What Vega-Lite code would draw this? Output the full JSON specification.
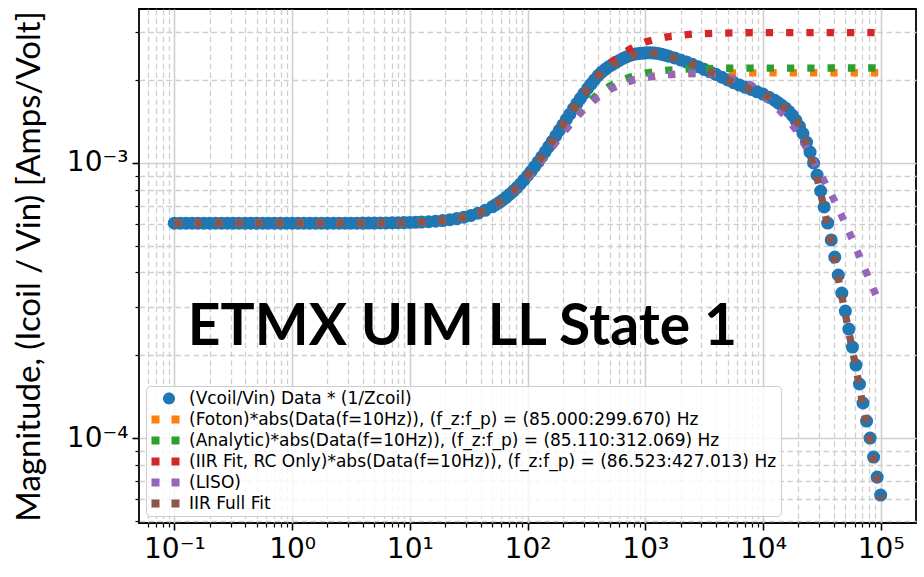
{
"$schema": "https://vega.github.io/schema/vega-lite/v6.json",
"width": 777,
"height": 514,
"autosize": {"type": "none"},
"padding": {"left": 139, "top": 9, "right": 8, "bottom": 54},
"background": "white",
"config": {"view": {"stroke": "black", "strokeWidth": 1.8}, "font": "DejaVu Sans"},
"datasets": {
"meas": [
{"s":"a","f":0.1,"m":6.04e-4},{"s":"a","f":0.1122,"m":6.04e-4},{"s":"a","f":0.1259,"m":6.04e-4},{"s":"a","f":0.1413,"m":6.04e-4},{"s":"a","f":0.1585,"m":6.04e-4},{"s":"a","f":0.1778,"m":6.04e-4},{"s":"a","f":0.1995,"m":6.04e-4},{"s":"a","f":0.2239,"m":6.04e-4},{"s":"a","f":0.2512,"m":6.04e-4},{"s":"a","f":0.2818,"m":6.04e-4},{"s":"a","f":0.3162,"m":6.04e-4},{"s":"a","f":0.3548,"m":6.04e-4},{"s":"a","f":0.3981,"m":6.04e-4},{"s":"a","f":0.4467,"m":6.04e-4},{"s":"a","f":0.5012,"m":6.04e-4},{"s":"a","f":0.5623,"m":6.04e-4},{"s":"a","f":0.631,"m":6.04e-4},{"s":"a","f":0.7079,"m":6.04e-4},{"s":"a","f":0.7943,"m":6.04e-4},{"s":"a","f":0.8913,"m":6.04e-4},{"s":"a","f":1,"m":6.04e-4},{"s":"a","f":1.122,"m":6.04e-4},{"s":"a","f":1.259,"m":6.04e-4},{"s":"a","f":1.413,"m":6.04e-4},{"s":"a","f":1.585,"m":6.04e-4},{"s":"a","f":1.778,"m":6.04e-4},{"s":"a","f":1.995,"m":6.04e-4},{"s":"a","f":2.239,"m":6.04e-4},{"s":"a","f":2.512,"m":6.04e-4},{"s":"a","f":2.818,"m":6.04e-4},{"s":"a","f":3.162,"m":6.04e-4},{"s":"a","f":3.548,"m":6.04e-4},{"s":"a","f":3.981,"m":6.045e-4},
{"s":"a","f":4.467,"m":6.05e-4},{"s":"a","f":5.012,"m":6.05e-4},{"s":"a","f":5.623,"m":6.053e-4},{"s":"a","f":6.31,"m":6.056e-4},{"s":"a","f":7.079,"m":6.06e-4},{"s":"a","f":7.943,"m":6.064e-4},{"s":"a","f":8.913,"m":6.07e-4},{"s":"a","f":10,"m":6.078e-4},{"s":"a","f":11.22,"m":6.088e-4},{"s":"a","f":12.59,"m":6.101e-4},{"s":"a","f":14.45,"m":6.12e-4},{"s":"a","f":16.6,"m":6.145e-4},{"s":"a","f":19.05,"m":6.178e-4},{"s":"a","f":21.88,"m":6.221e-4},{"s":"a","f":25.12,"m":6.277e-4},{"s":"a","f":28.84,"m":6.351e-4},{"s":"a","f":33.11,"m":6.447e-4},{"s":"a","f":38.02,"m":6.571e-4},{"s":"a","f":43.65,"m":6.73e-4},{"s":"a","f":50.12,"m":6.932e-4},
{"s":"a","f":53.7,"m":7.053e-4},{"s":"a","f":57.54,"m":7.188e-4},{"s":"a","f":61.66,"m":7.34e-4},{"s":"a","f":66.07,"m":7.51e-4},{"s":"a","f":70.79,"m":7.699e-4},{"s":"a","f":75.86,"m":7.909e-4},{"s":"a","f":81.28,"m":8.141e-4},{"s":"a","f":87.1,"m":8.397e-4},{"s":"a","f":93.33,"m":8.679e-4},{"s":"a","f":100,"m":8.987e-4},{"s":"a","f":107.2,"m":9.327e-4},{"s":"a","f":114.8,"m":9.694e-4},{"s":"a","f":123,"m":1.0091e-3},{"s":"a","f":131.8,"m":1.0519e-3},{"s":"a","f":141.3,"m":1.098e-3},{"s":"a","f":151.4,"m":1.1474e-3},{"s":"a","f":162.2,"m":1.1998e-3},{"s":"a","f":173.8,"m":1.2557e-3},{"s":"a","f":186.2,"m":1.3144e-3},{"s":"a","f":199.5,"m":1.3757e-3},{"s":"a","f":213.8,"m":1.4398e-3},{"s":"a","f":229.1,"m":1.5065e-3},{"s":"a","f":245.5,"m":1.5753e-3},{"s":"a","f":263,"m":1.646e-3},{"s":"a","f":281.8,"m":1.7183e-3},{"s":"a","f":302,"m":1.7906e-3},{"s":"a","f":323.6,"m":1.8638e-3},{"s":"a","f":346.7,"m":1.9369e-3},{"s":"a","f":371.5,"m":2.0092e-3},{"s":"a","f":398.1,"m":2.0804e-3},
{"s":"a","f":426.6,"m":2.14e-3},{"s":"a","f":457.1,"m":2.19e-3},{"s":"a","f":489.8,"m":2.24e-3},{"s":"a","f":524.8,"m":2.28e-3},{"s":"a","f":562.3,"m":2.32e-3},{"s":"a","f":602.6,"m":2.36e-3},{"s":"a","f":645.7,"m":2.4e-3},{"s":"a","f":691.8,"m":2.43e-3},{"s":"a","f":741.3,"m":2.46e-3},{"s":"a","f":794.3,"m":2.48e-3},{"s":"a","f":851.1,"m":2.495e-3},{"s":"a","f":912,"m":2.505e-3},{"s":"a","f":977.2,"m":2.51e-3},{"s":"a","f":1047,"m":2.515e-3},{"s":"a","f":1122,"m":2.515e-3},{"s":"a","f":1202,"m":2.51e-3},{"s":"a","f":1288,"m":2.5e-3},{"s":"a","f":1380,"m":2.485e-3},{"s":"a","f":1479,"m":2.465e-3},{"s":"a","f":1585,"m":2.445e-3},
{"s":"a","f":1778,"m":2.41e-3},{"s":"a","f":1995,"m":2.37e-3},{"s":"a","f":2239,"m":2.33e-3},{"s":"a","f":2512,"m":2.285e-3},{"s":"a","f":2818,"m":2.24e-3},{"s":"a","f":3162,"m":2.19e-3},{"s":"a","f":3548,"m":2.145e-3},{"s":"a","f":3981,"m":2.1e-3},{"s":"a","f":4467,"m":2.05e-3},{"s":"a","f":5012,"m":2.005e-3},{"s":"a","f":5623,"m":1.96e-3},{"s":"a","f":6310,"m":1.92e-3},{"s":"a","f":7079,"m":1.885e-3},{"s":"a","f":7943,"m":1.85e-3},{"s":"a","f":8913,"m":1.815e-3},{"s":"a","f":10000,"m":1.78e-3},{"s":"a","f":11220,"m":1.735e-3},{"s":"a","f":12589,"m":1.69e-3},
{"s":"a","f":13490,"m":1.655e-3},{"s":"a","f":14454,"m":1.62e-3},{"s":"a","f":15488,"m":1.585e-3},{"s":"a","f":16596,"m":1.54e-3},{"s":"a","f":17783,"m":1.49e-3},{"s":"a","f":19055,"m":1.43e-3},{"s":"a","f":20417,"m":1.36e-3},{"s":"a","f":21878,"m":1.28e-3},{"s":"a","f":23442,"m":1.19e-3},{"s":"a","f":25119,"m":1.096e-3},{"s":"a","f":26915,"m":1.0e-3},{"s":"a","f":28840,"m":9.04e-4},{"s":"a","f":30903,"m":7.91e-4},{"s":"a","f":33113,"m":6.92e-4},{"s":"a","f":35481,"m":6.05e-4},{"s":"a","f":38019,"m":5.25e-4},{"s":"a","f":40738,"m":4.55e-4},{"s":"a","f":43652,"m":3.915e-4},{"s":"a","f":46774,"m":3.367e-4},{"s":"a","f":50119,"m":2.895e-4},{"s":"a","f":53703,"m":2.49e-4},{"s":"a","f":57544,"m":2.142e-4},{"s":"a","f":61660,"m":1.842e-4},{"s":"a","f":66069,"m":1.572e-4},{"s":"a","f":70795,"m":1.341e-4},{"s":"a","f":75858,"m":1.153e-4},{"s":"a","f":81283,"m":1.0e-4},{"s":"a","f":87096,"m":8.53e-5},{"s":"a","f":93325,"m":7.21e-5},{"s":"a","f":100000,"m":6.205e-5}
],
"models": [
{"s":"b","f":0.1,"m":6.04e-4},{"s":"b","f":1,"m":6.04e-4},{"s":"b","f":3.162,"m":6.044e-4},{"s":"b","f":10,"m":6.078e-4},{"s":"b","f":15.85,"m":6.135e-4},{"s":"b","f":25.12,"m":6.276e-4},{"s":"b","f":31.62,"m":6.409e-4},{"s":"b","f":39.81,"m":6.611e-4},{"s":"b","f":50.12,"m":6.915e-4},{"s":"b","f":63.1,"m":7.359e-4},{"s":"b","f":79.43,"m":7.99e-4},{"s":"b","f":100,"m":8.845e-4},{"s":"b","f":125.9,"m":9.952e-4},{"s":"b","f":158.5,"m":1.1297e-3},{"s":"b","f":199.5,"m":1.2831e-3},{"s":"b","f":251.2,"m":1.444e-3},{"s":"b","f":316.2,"m":1.6004e-3},{"s":"b","f":398.1,"m":1.7392e-3},{"s":"b","f":501.2,"m":1.8537e-3},{"s":"b","f":631,"m":1.9408e-3},{"s":"b","f":794.3,"m":2.0037e-3},{"s":"b","f":1000,"m":2.0471e-3},{"s":"b","f":1259,"m":2.0762e-3},{"s":"b","f":1585,"m":2.0952e-3},{"s":"b","f":2512,"m":2.1155e-3},{"s":"b","f":3981,"m":2.1237e-3},{"s":"b","f":10000,"m":2.1282e-3},{"s":"b","f":100000,"m":2.1292e-3},
{"s":"c","f":0.1,"m":6.04e-4},{"s":"c","f":1,"m":6.04e-4},{"s":"c","f":3.162,"m":6.044e-4},{"s":"c","f":10,"m":6.078e-4},{"s":"c","f":15.85,"m":6.135e-4},{"s":"c","f":25.12,"m":6.276e-4},{"s":"c","f":31.62,"m":6.41e-4},{"s":"c","f":39.81,"m":6.614e-4},{"s":"c","f":50.12,"m":6.92e-4},{"s":"c","f":63.1,"m":7.366e-4},{"s":"c","f":79.43,"m":8.005e-4},{"s":"c","f":100,"m":8.873e-4},{"s":"c","f":125.9,"m":1.0002e-3},{"s":"c","f":158.5,"m":1.1383e-3},{"s":"c","f":199.5,"m":1.2984e-3},{"s":"c","f":251.2,"m":1.4661e-3},{"s":"c","f":316.2,"m":1.6322e-3},{"s":"c","f":398.1,"m":1.7827e-3},{"s":"c","f":501.2,"m":1.9076e-3},{"s":"c","f":631,"m":2.0038e-3},{"s":"c","f":794.3,"m":2.0738e-3},{"s":"c","f":1000,"m":2.1223e-3},{"s":"c","f":1259,"m":2.155e-3},{"s":"c","f":1585,"m":2.1766e-3},{"s":"c","f":2512,"m":2.1996e-3},{"s":"c","f":3981,"m":2.2089e-3},{"s":"c","f":10000,"m":2.2141e-3},{"s":"c","f":100000,"m":2.2152e-3},
{"s":"d","f":0.1,"m":6.04e-4},{"s":"d","f":1,"m":6.04e-4},{"s":"d","f":3.162,"m":6.044e-4},{"s":"d","f":10,"m":6.078e-4},{"s":"d","f":15.85,"m":6.136e-4},{"s":"d","f":25.12,"m":6.277e-4},{"s":"d","f":31.62,"m":6.412e-4},{"s":"d","f":39.81,"m":6.619e-4},{"s":"d","f":50.12,"m":6.931e-4},{"s":"d","f":63.1,"m":7.392e-4},{"s":"d","f":79.43,"m":8.059e-4},{"s":"d","f":100,"m":8.987e-4},{"s":"d","f":125.9,"m":1.0229e-3},{"s":"d","f":158.5,"m":1.1817e-3},{"s":"d","f":199.5,"m":1.3757e-3},{"s":"d","f":251.2,"m":1.5986e-3},{"s":"d","f":316.2,"m":1.8387e-3},{"s":"d","f":398.1,"m":2.0804e-3},{"s":"d","f":501.2,"m":2.3035e-3},{"s":"d","f":631,"m":2.4925e-3},{"s":"d","f":794.3,"m":2.6414e-3},{"s":"d","f":1000,"m":2.752e-3},{"s":"d","f":1259,"m":2.8293e-3},{"s":"d","f":1585,"m":2.8822e-3},{"s":"d","f":2512,"m":2.9407e-3},{"s":"d","f":3981,"m":2.9642e-3},{"s":"d","f":6310,"m":2.9742e-3},{"s":"d","f":10000,"m":2.9781e-3},{"s":"d","f":100000,"m":2.9808e-3},
{"s":"e","f":0.1,"m":6.04e-4},{"s":"e","f":1,"m":6.04e-4},{"s":"e","f":3.162,"m":6.044e-4},{"s":"e","f":10,"m":6.078e-4},{"s":"e","f":15.85,"m":6.135e-4},{"s":"e","f":25.12,"m":6.276e-4},{"s":"e","f":31.62,"m":6.409e-4},{"s":"e","f":39.81,"m":6.611e-4},{"s":"e","f":50.12,"m":6.915e-4},{"s":"e","f":63.1,"m":7.359e-4},{"s":"e","f":79.43,"m":7.99e-4},{"s":"e","f":100,"m":8.845e-4},{"s":"e","f":125.9,"m":9.952e-4},{"s":"e","f":158.5,"m":1.1297e-3},{"s":"e","f":199.5,"m":1.2831e-3},{"s":"e","f":251.2,"m":1.444e-3},{"s":"e","f":316.2,"m":1.6004e-3},{"s":"e","f":398.1,"m":1.7392e-3},{"s":"e","f":501.2,"m":1.8537e-3},{"s":"e","f":631,"m":1.9408e-3},{"s":"e","f":794.3,"m":2.0037e-3},{"s":"e","f":1000,"m":2.0471e-3},{"s":"e","f":1259,"m":2.0762e-3},{"s":"e","f":1585,"m":2.0952e-3},{"s":"e","f":2512,"m":2.1155e-3},{"s":"e","f":3981,"m":2.11e-3},{"s":"e","f":5012,"m":2.05e-3},{"s":"e","f":6310,"m":1.99e-3},{"s":"e","f":7943,"m":1.92e-3},{"s":"e","f":10000,"m":1.778e-3},{"s":"e","f":12589,"m":1.622e-3},{"s":"e","f":15849,"m":1.462e-3},{"s":"e","f":19953,"m":1.288e-3},{"s":"e","f":25119,"m":1.072e-3},{"s":"e","f":31623,"m":8.91e-4},{"s":"e","f":39811,"m":7.41e-4},{"s":"e","f":50119,"m":6.03e-4},{"s":"e","f":63096,"m":4.79e-4},{"s":"e","f":79433,"m":3.8e-4},{"s":"e","f":100000,"m":3.02e-4},
{"s":"f","f":0.1,"m":6.04e-4},{"s":"f","f":1,"m":6.04e-4},{"s":"f","f":3.162,"m":6.044e-4},{"s":"f","f":10,"m":6.078e-4},{"s":"f","f":15.85,"m":6.136e-4},{"s":"f","f":25.12,"m":6.277e-4},{"s":"f","f":31.62,"m":6.412e-4},{"s":"f","f":39.81,"m":6.619e-4},{"s":"f","f":50.12,"m":6.931e-4},{"s":"f","f":63.1,"m":7.392e-4},{"s":"f","f":79.43,"m":8.059e-4},{"s":"f","f":100,"m":8.987e-4},{"s":"f","f":125.9,"m":1.0229e-3},{"s":"f","f":158.5,"m":1.1817e-3},{"s":"f","f":199.5,"m":1.3757e-3},{"s":"f","f":251.2,"m":1.5986e-3},{"s":"f","f":316.2,"m":1.8387e-3},{"s":"f","f":398.1,"m":2.07e-3},{"s":"f","f":501.2,"m":2.25e-3},{"s":"f","f":631,"m":2.38e-3},{"s":"f","f":794.3,"m":2.47e-3},{"s":"f","f":1000,"m":2.51e-3},{"s":"f","f":1259,"m":2.505e-3},{"s":"f","f":1585,"m":2.445e-3},{"s":"f","f":1995,"m":2.37e-3},{"s":"f","f":2512,"m":2.285e-3},{"s":"f","f":3162,"m":2.19e-3},{"s":"f","f":3981,"m":2.1e-3},{"s":"f","f":5012,"m":2.005e-3},{"s":"f","f":6310,"m":1.92e-3},{"s":"f","f":7943,"m":1.85e-3},{"s":"f","f":10000,"m":1.78e-3},{"s":"f","f":12589,"m":1.69e-3},{"s":"f","f":15849,"m":1.57e-3},{"s":"f","f":17783,"m":1.49e-3},{"s":"f","f":19953,"m":1.39e-3},{"s":"f","f":22387,"m":1.24e-3},{"s":"f","f":25119,"m":1.07e-3},{"s":"f","f":28184,"m":9.2e-4},{"s":"f","f":31623,"m":7.45e-4},{"s":"f","f":35481,"m":5.9e-4},{"s":"f","f":39811,"m":4.65e-4},{"s":"f","f":44668,"m":3.62e-4},{"s":"f","f":50119,"m":2.82e-4},{"s":"f","f":56234,"m":2.2e-4},{"s":"f","f":63096,"m":1.71e-4},{"s":"f","f":70795,"m":1.31e-4},{"s":"f","f":79433,"m":1.02e-4},{"s":"f","f":89125,"m":7.9e-5},{"s":"f","f":100000,"m":6.0e-5}
],
"note": [{"f": 28, "m": 0.000218, "t": "ETMX UIM LL State 1"}]
},
"encoding": {
"x": {"field": "f", "type": "quantitative",
 "scale": {"type": "log", "domain": [0.0501, 199526], "nice": false},
 "axis": {"title": null, "domain": false, "grid": true,
  "values": [0.06,0.07,0.08,0.09,0.1,0.2,0.3,0.4,0.5,0.6,0.7,0.8,0.9,1,2,3,4,5,6,7,8,9,10,20,30,40,50,60,70,80,90,100,200,300,400,500,600,700,800,900,1000,2000,3000,4000,5000,6000,7000,8000,9000,10000,20000,30000,40000,50000,60000,70000,80000,90000,100000],
  "labelExpr": "datum.value == 0.1 ? '10⁻¹' : datum.value == 1 ? '10⁰' : datum.value == 10 ? '10¹' : datum.value == 100 ? '10²' : datum.value == 1000 ? '10³' : datum.value == 10000 ? '10⁴' : datum.value == 100000 ? '10⁵' : ''",
  "labelFont": "DejaVu Sans", "labelFontSize": 28, "labelColor": "black", "labelPadding": 5, "labelOverlap": false, "labelFlush": false, "labelBound": false, "labelAngle": 0,
  "tickColor": "black",
  "tickSize": {"condition": {"test": "abs(log(datum.value)/LN10 - round(log(datum.value)/LN10)) < 0.001", "value": 7}, "value": 4},
  "tickWidth": {"condition": {"test": "abs(log(datum.value)/LN10 - round(log(datum.value)/LN10)) < 0.001", "value": 1.6}, "value": 1.2},
  "gridColor": "#cfcfcf",
  "gridDash": {"condition": {"test": "abs(log(datum.value)/LN10 - round(log(datum.value)/LN10)) < 0.001", "value": []}, "value": [5.5, 3.5]},
  "gridWidth": {"condition": {"test": "abs(log(datum.value)/LN10 - round(log(datum.value)/LN10)) < 0.001", "value": 1.6}, "value": 1.3}
 }},
"y": {"field": "m", "type": "quantitative",
 "scale": {"type": "log", "domain": [4.91e-5, 3.63e-3], "nice": false},
 "axis": {"title": "Magnitude, (Icoil / Vin) [Amps/Volt]", "titleFont": "Lato", "titleFontSize": 33, "titleFontWeight": "normal", "titleColor": "black", "titlePadding": 20,
  "domain": false, "grid": true,
  "values": [0.00005,0.00006,0.00007,0.00008,0.00009,0.0001,0.0002,0.0003,0.0004,0.0005,0.0006,0.0007,0.0008,0.0009,0.001,0.002,0.003],
  "labelExpr": "datum.value == 0.001 ? '10⁻³' : datum.value == 0.0001 ? '10⁻⁴' : ''",
  "labelFont": "DejaVu Sans", "labelFontSize": 28, "labelColor": "black", "labelPadding": 4, "labelOverlap": false, "labelFlush": false, "labelBound": false,
  "tickColor": "black",
  "tickSize": {"condition": {"test": "abs(log(datum.value)/LN10 - round(log(datum.value)/LN10)) < 0.001", "value": 7}, "value": 4},
  "tickWidth": {"condition": {"test": "abs(log(datum.value)/LN10 - round(log(datum.value)/LN10)) < 0.001", "value": 1.6}, "value": 1.2},
  "gridColor": "#cfcfcf",
  "gridDash": {"condition": {"test": "abs(log(datum.value)/LN10 - round(log(datum.value)/LN10)) < 0.001", "value": []}, "value": [5.5, 3.5]},
  "gridWidth": {"condition": {"test": "abs(log(datum.value)/LN10 - round(log(datum.value)/LN10)) < 0.001", "value": 1.6}, "value": 1.3}
 }}
},
"layer": [
{"data": {"name": "meas"},
 "mark": {"type": "point", "filled": true, "opacity": 0},
 "encoding": {
  "color": {"field": "s", "type": "nominal",
   "scale": {"domain": ["a","b","c","d","e","f"], "range": ["#1f77b4","#ff7f0e","#2ca02c","#d62728","#9467bd","#8c564b"]},
   "legend": {"title": null, "orient": "bottom-left", "offset": 7, "padding": 4, "fillColor": "rgba(255,255,255,0.8)", "strokeColor": "#cccccc", "cornerRadius": 4, "labelFont": "DejaVu Sans", "labelFontSize": 17, "labelColor": "black", "labelLimit": 1000, "labelOffset": 22, "rowPadding": 3, "symbolSize": 196, "symbolStrokeWidth": 0, "symbolOpacity": 1,
    "labelExpr": "datum.value == 'a' ? '(Vcoil/Vin) Data * (1/Zcoil)' : datum.value == 'b' ? '(Foton)*abs(Data(f=10Hz)), (f_z:f_p) = (85.000:299.670) Hz' : datum.value == 'c' ? '(Analytic)*abs(Data(f=10Hz)), (f_z:f_p) = (85.110:312.069) Hz' : datum.value == 'd' ? '(IIR Fit, RC Only)*abs(Data(f=10Hz)), (f_z:f_p) = (86.523:427.013) Hz' : datum.value == 'e' ? '(LISO)' : 'IIR Full Fit'"}},
  "shape": {"field": "s", "type": "nominal",
   "scale": {"domain": ["a","b","c","d","e","f"], "range": ["M0.643,0 A0.857,0.857 0 1,0 2.357,0 A0.857,0.857 0 1,0 0.643,0 Z","M-1,-0.571H0.143V0.571H-1Z M1.857,-0.571H3V0.571H1.857Z","M-1,-0.571H0.143V0.571H-1Z M1.857,-0.571H3V0.571H1.857Z","M-1,-0.571H0.143V0.571H-1Z M1.857,-0.571H3V0.571H1.857Z","M-1,-0.571H0.143V0.571H-1Z M1.857,-0.571H3V0.571H1.857Z","M-1,-0.571H0.143V0.571H-1Z M1.857,-0.571H3V0.571H1.857Z"]},
   "legend": {"title": null, "orient": "bottom-left", "offset": 7, "padding": 4, "fillColor": "rgba(255,255,255,0.8)", "strokeColor": "#cccccc", "cornerRadius": 4, "labelFont": "DejaVu Sans", "labelFontSize": 17, "labelColor": "black", "labelLimit": 1000, "labelOffset": 22, "rowPadding": 3, "symbolSize": 196, "symbolStrokeWidth": 0, "symbolOpacity": 1,
    "labelExpr": "datum.value == 'a' ? '(Vcoil/Vin) Data * (1/Zcoil)' : datum.value == 'b' ? '(Foton)*abs(Data(f=10Hz)), (f_z:f_p) = (85.000:299.670) Hz' : datum.value == 'c' ? '(Analytic)*abs(Data(f=10Hz)), (f_z:f_p) = (85.110:312.069) Hz' : datum.value == 'd' ? '(IIR Fit, RC Only)*abs(Data(f=10Hz)), (f_z:f_p) = (86.523:427.013) Hz' : datum.value == 'e' ? '(LISO)' : 'IIR Full Fit'"}}
 }},
{"data": {"name": "meas"}, "mark": {"type": "circle", "size": 170, "color": "#1f77b4", "opacity": 1}, "encoding": {}},
{"data": {"name": "models"}, "transform": [{"filter": "datum.s == 'b'"}], "mark": {"type": "line", "color": "#ff7f0e", "strokeWidth": 7.3, "strokeDash": [7.3, 13], "strokeCap": "butt"}, "encoding": {}},
{"data": {"name": "models"}, "transform": [{"filter": "datum.s == 'c'"}], "mark": {"type": "line", "color": "#2ca02c", "strokeWidth": 7.3, "strokeDash": [7.3, 13], "strokeCap": "butt"}, "encoding": {}},
{"data": {"name": "models"}, "transform": [{"filter": "datum.s == 'd'"}], "mark": {"type": "line", "color": "#d62728", "strokeWidth": 7.3, "strokeDash": [7.3, 13], "strokeCap": "butt"}, "encoding": {}},
{"data": {"name": "models"}, "transform": [{"filter": "datum.s == 'e'"}], "mark": {"type": "line", "color": "#9467bd", "strokeWidth": 7.3, "strokeDash": [7.3, 13], "strokeCap": "butt"}, "encoding": {}},
{"data": {"name": "models"}, "transform": [{"filter": "datum.s == 'f'"}], "mark": {"type": "line", "color": "#8c564b", "strokeWidth": 7.3, "strokeDash": [7.3, 13], "strokeCap": "butt"}, "encoding": {}},
{"data": {"name": "note"}, "mark": {"type": "text", "font": "Lato", "fontSize": 57, "fontWeight": "bold", "align": "center", "baseline": "alphabetic", "color": "black"}, "encoding": {"text": {"field": "t"}}}
]
}
